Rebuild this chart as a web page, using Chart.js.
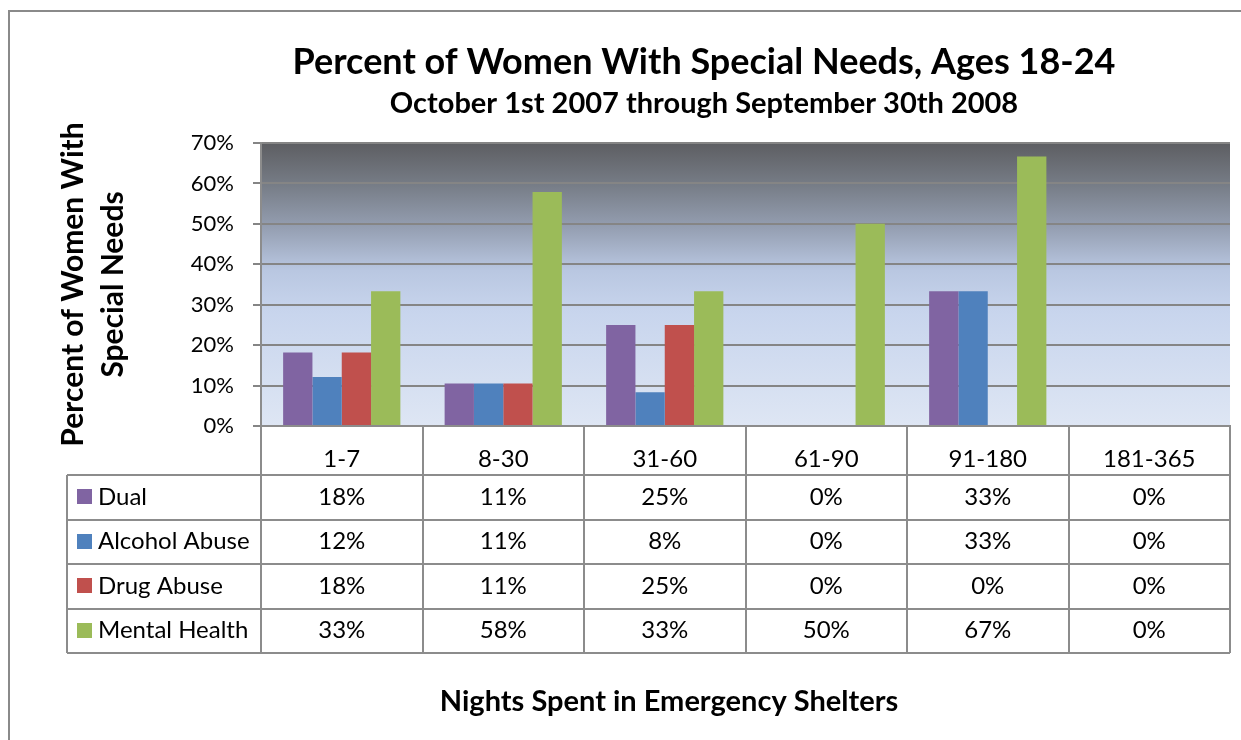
<!DOCTYPE html>
<html>
<head>
<meta charset="utf-8">
<script src="https://cdn.jsdelivr.net/npm/chart.js@4.4.1/dist/chart.umd.min.js"></script>
<style>
    html, body { margin: 0; padding: 0; background: #fff; }
    #wrap { width: 1241px; height: 740px; }
</style>
</head>
<body>
<div id="wrap"><canvas id="chart" width="1241" height="740"></canvas></div>
<script>
const categories = ['1-7', '8-30', '31-60', '61-90', '91-180', '181-365'];
const seriesNames = ['Dual', 'Alcohol Abuse', 'Drug Abuse', 'Mental Health'];
const dual = [18.18, 10.53, 25, 0, 33.33, 0];
const alcoholAbuse = [12.12, 10.53, 8.33, 0, 33.33, 0];
const drugAbuse = [18.18, 10.53, 25, 0, 0, 0];
const mentalHealth = [33.33, 57.89, 33.33, 50, 66.67, 0];
const yTicks = [0, 10, 20, 30, 40, 50, 60, 70];

const titleText = 'Percent of Women With Special Needs, Ages 18-24';
const subtitleText = 'October 1st 2007 through September 30th 2008';
const xTitleText = 'Nights Spent in Emergency Shelters';
const yTitleText = ['Percent of Women With', 'Special Needs'];

const colors = ['#8064a2', '#4f81bd', '#c0504d', '#9bbb59'];
const FONT = 'Lato, "Open Sans", sans-serif';
const lineGray = '#8c8c8c';

// table geometry (below the x axis)
const tableLeft = 67;
const headerBottom = 475;
const rowHeight = 44.5;

const allSeries = [dual, alcoholAbuse, drugAbuse, mentalHealth];

const extras = {
    id: 'extras',
    beforeDraw(chart) {
        const ctx = chart.ctx;
        const a = chart.chartArea;
        ctx.save();
        ctx.fillStyle = '#fff';
        ctx.fillRect(0, 0, chart.width, chart.height);

        // outer frame
        ctx.strokeStyle = '#8a8a8a';
        ctx.lineWidth = 2;
        ctx.strokeRect(9, 11, chart.width + 20, chart.height + 20);

        // plot area gradient
        const g = ctx.createLinearGradient(0, a.top, 0, a.bottom);
        g.addColorStop(0, '#5d5e62');
        g.addColorStop(0.15, '#777d87');
        g.addColorStop(0.3, '#959fb2');
        g.addColorStop(0.45, '#b9c7e1');
        g.addColorStop(0.6, '#c8d5ed');
        g.addColorStop(1, '#dee6f4');
        ctx.fillStyle = g;
        ctx.fillRect(a.left, a.top, a.right - a.left, a.bottom - a.top);

        // titles
        ctx.fillStyle = '#000';
        ctx.textAlign = 'center';
        ctx.textBaseline = 'alphabetic';
        ctx.font = 'bold 36px ' + FONT;
        ctx.fillText(titleText, 704, 74);
        ctx.font = 'bold 29px ' + FONT;
        ctx.fillText(subtitleText, 704, 113);
        ctx.font = 'bold 29px ' + FONT;
        ctx.fillText(xTitleText, 669, 711);
        ctx.restore();
    },
    afterDraw(chart) {
        const ctx = chart.ctx;
        const a = chart.chartArea;
        const x = chart.scales.x;
        const n = categories.length;
        const colW = (x.right - x.left) / n;
        const tableBottom = headerBottom + rowHeight * allSeries.length;

        ctx.save();
        ctx.strokeStyle = lineGray;
        ctx.lineWidth = 2;
        ctx.beginPath();
        // vertical lines of the data columns
        for (let i = 0; i <= n; i++) {
            const px = Math.round(x.left + colW * i);
            ctx.moveTo(px, a.bottom);
            ctx.lineTo(px, tableBottom);
        }
        // legend column left edge
        ctx.moveTo(tableLeft, headerBottom);
        ctx.lineTo(tableLeft, tableBottom);
        // row lines
        for (let r = 0; r <= allSeries.length; r++) {
            const py = Math.round(headerBottom + rowHeight * r);
            ctx.moveTo(tableLeft, py);
            ctx.lineTo(x.right, py);
        }
        ctx.stroke();

        ctx.font = '24px ' + FONT;
        ctx.textBaseline = 'middle';
        allSeries.forEach((vals, r) => {
            const cy = headerBottom + rowHeight * r + rowHeight / 2;
            ctx.fillStyle = colors[r];
            ctx.fillRect(77, Math.round(cy - 8), 15, 15);
            ctx.fillStyle = '#000';
            ctx.textAlign = 'left';
            ctx.fillText(seriesNames[r], 98, cy);
            ctx.textAlign = 'center';
            vals.forEach((v, i) => {
                ctx.fillText(Math.round(v) + '%', x.getPixelForValue(i), cy);
            });
        });
        ctx.restore();
    }
};

new Chart(document.getElementById('chart'), {
    type: 'bar',
    data: {
        labels: categories,
        datasets: seriesNames.map((name, i) => ({
            label: name,
            data: allSeries[i],
            backgroundColor: colors[i],
            borderWidth: 0,
            categoryPercentage: 0.726,
            barPercentage: 1,
        })),
    },
    options: {
        responsive: false,
        animation: false,
        devicePixelRatio: 1,
        layout: { padding: { top: 143, right: 11, bottom: 0, left: 0 } },
        plugins: {
            legend: { display: false },
            tooltip: { enabled: false },
        },
        scales: {
            x: {
                grid: { display: false },
                border: { display: true, color: lineGray, width: 2 },
                ticks: {
                    color: '#000',
                    font: { family: FONT, size: 24 },
                    padding: 11,
                },
                afterFit(scale) {
                    scale.height = 314;
                },
            },
            y: {
                min: 0,
                max: 70,
                afterBuildTicks(scale) {
                    scale.ticks = yTicks.map(v => ({ value: v }));
                },
                grid: { color: '#858585', lineWidth: 2, tickLength: 8 },
                border: { display: true, color: lineGray, width: 2 },
                ticks: {
                    color: '#000',
                    font: { family: FONT, size: 22 },
                    padding: 19,
                    callback: v => v + '%',
                },
                title: {
                    display: true,
                    text: yTitleText,
                    color: '#000',
                    font: { family: FONT, size: 30, weight: 'bold', lineHeight: 1.33 },
                    padding: { top: 53, bottom: 0 },
                },
                afterFit(scale) {
                    scale.width = 261;
                },
            },
        },
    },
    plugins: [extras],
});
</script>
</body>
</html>
